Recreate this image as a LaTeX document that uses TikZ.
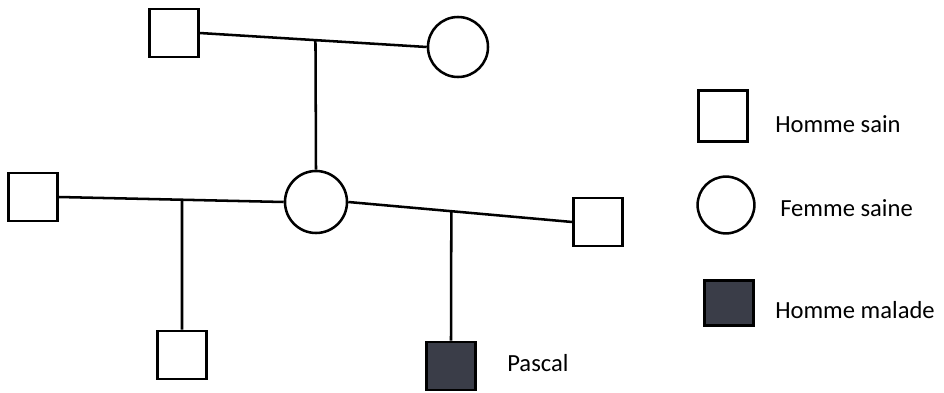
\documentclass[tikz,border=0pt]{standalone}
\usepackage{fontspec}
\setmainfont{Carlito}
\usetikzlibrary{calc}
\definecolor{malade}{HTML}{3A3D48}
\begin{document}
\begin{tikzpicture}[
  homme/.style={draw,line width=1.8pt,rectangle,minimum width=1.22cm,minimum height=1.2cm,inner sep=0pt},
  femme/.style={draw,line width=1.8pt,circle,minimum size=1.5cm,inner sep=0pt},
  atteint/.style={homme,fill=malade},
  lien/.style={line width=1.8pt},
  legende/.style={anchor=west,font=\fontsize{17.5}{20}\selectfont,inner sep=0pt}]
\useasboundingbox (0,0) rectangle (23.6,9.8);
\node[homme] (pere) at (4.35,8.975) {};
\node[femme] (mere) at (11.45,8.625) {};
\node[femme,minimum size=1.55cm] (fille) at (7.9,4.75) {};
\node[homme] (mari1) at (0.825,4.875) {};
\node[homme] (mari2) at (14.95,4.25) {};
\node[homme] (fils) at (4.55,0.925) {};
\node[atteint] (pascal) at (11.275,0.65) {};
\node[legende] (npascal) at (12.675,0.72) {Pascal};
\draw[lien] (pere.east) -- coordinate[pos=0.51] (u1) (mere.west);
\draw[lien] (u1) -- (fille.north);
\draw[lien] (mari1.east) -- coordinate[pos=0.548] (u2) (fille.west);
\draw[lien] (u2) -- (fils.north);
\draw[lien] (fille.east) -- coordinate[pos=0.46] (u3) (mari2.west);
\draw[lien] (u3) -- (pascal.north);
\node[homme,minimum height=1.28cm] (lhomme) at (18.075,6.9) {};
\node[legende] (thomme) at (19.375,6.7) {Homme sain};
\node[femme,minimum size=1.42cm] (lfemme) at (18.15,4.675) {};
\node[legende] (tfemme) at (19.5,4.6) {Femme saine};
\node[atteint,minimum height=1.12cm] (lmalade) at (18.225,2.225) {};
\node[legende] (tmalade) at (19.375,2.05) {Homme malade};
\end{tikzpicture}
\end{document}
